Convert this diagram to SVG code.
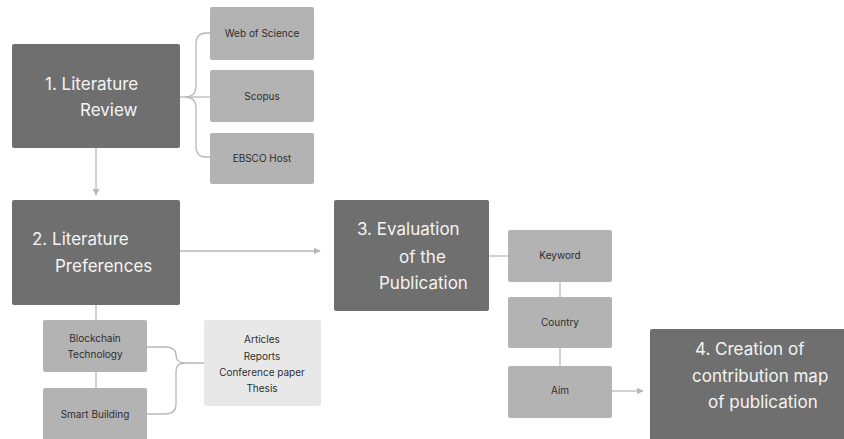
<svg xmlns="http://www.w3.org/2000/svg" width="844" height="439" viewBox="0 0 844 439">
<style>
.big{fill:#6f6f6f}
.small{fill:#b3b3b3}
.light{fill:#e8e8e8}
.bt{font-family:Inter,"Liberation Sans",sans-serif;font-size:17px;fill:#f4f4f4}
.st{font-family:Inter,"Liberation Sans",sans-serif;font-size:10px;fill:#2e2e2e;text-anchor:middle}
.ln{fill:none;stroke:#b9b9b9;stroke-width:1.3}
</style>
<defs>
<marker id="ah" viewBox="0 0 10 10" refX="9" refY="5" markerWidth="7" markerHeight="7" orient="auto" markerUnits="userSpaceOnUse">
<path d="M0,0 L10,5 L0,10 z" fill="#b9b9b9"/>
</marker>
</defs>
<rect width="844" height="439" fill="#ffffff"/>
<g id="connectors">
<path class="ln" d="M180,97 H210"/>
<path class="ln" d="M185,97 Q196,97 196,86 V44 Q196,33 206,33 H210"/>
<path class="ln" d="M185,97 Q196,97 196,108 V146 Q196,157 206,157 H210"/>
<path class="ln" d="M96,148 V195" marker-end="url(#ah)"/>
<path class="ln" d="M180,251 H320" marker-end="url(#ah)"/>
<path class="ln" d="M96,305 V320"/>
<path class="ln" d="M96,372 V388"/>
<path class="ln" d="M147,347 H165 Q176,347 176,355 Q176,363 185,363 H204"/>
<path class="ln" d="M147,414 H165 Q176,414 176,404 V371 Q176,363 185,363"/>
<path class="ln" d="M489,256 H508"/>
<path class="ln" d="M560,282 V297"/>
<path class="ln" d="M560,348 V366"/>
<path class="ln" d="M612,391 H643" marker-end="url(#ah)"/>
</g>
<g id="n1">
<rect class="big" x="12" y="44" width="168" height="104" rx="2"/>
<text class="bt" x="45" y="90">1. Literature</text>
<text class="bt" x="80" y="116">Review</text>
</g>
<g id="wos">
<rect class="small" x="210" y="7" width="104" height="53" rx="2"/>
<text class="st" x="262" y="37">Web of Science</text>
</g>
<g id="scopus">
<rect class="small" x="210" y="70" width="104" height="52" rx="2"/>
<text class="st" x="262" y="100">Scopus</text>
</g>
<g id="ebsco">
<rect class="small" x="210" y="133" width="104" height="51" rx="2"/>
<text class="st" x="262" y="162">EBSCO Host</text>
</g>
<g id="n2">
<rect class="big" x="12" y="200" width="168" height="105" rx="2"/>
<text class="bt" x="32" y="245">2. Literature</text>
<text class="bt" x="55" y="272">Preferences</text>
</g>
<g id="blockchain">
<rect class="small" x="43" y="320" width="104" height="52" rx="2"/>
<text class="st" x="95" y="342">Blockchain</text>
<text class="st" x="95" y="358">Technology</text>
</g>
<g id="smart">
<rect class="small" x="43" y="388" width="104" height="54" rx="2"/>
<text class="st" x="95" y="418">Smart Building</text>
</g>
<g id="types">
<rect class="light" x="204" y="320" width="117" height="86" rx="2"/>
<text class="st" x="262" y="343">Articles</text>
<text class="st" x="262" y="360">Reports</text>
<text class="st" x="262" y="376">Conference paper</text>
<text class="st" x="262" y="392">Thesis</text>
</g>
<g id="n3">
<rect class="big" x="334" y="200" width="155" height="111" rx="2"/>
<text class="bt" x="357" y="235">3. Evaluation</text>
<text class="bt" x="399" y="263">of the</text>
<text class="bt" x="379" y="289">Publication</text>
</g>
<g id="keyword">
<rect class="small" x="508" y="230" width="104" height="52" rx="2"/>
<text class="st" x="560" y="259">Keyword</text>
</g>
<g id="country">
<rect class="small" x="508" y="297" width="104" height="51" rx="2"/>
<text class="st" x="560" y="326">Country</text>
</g>
<g id="aim">
<rect class="small" x="508" y="366" width="104" height="52" rx="2"/>
<text class="st" x="560" y="394">Aim</text>
</g>
<g id="n4">
<rect class="big" x="650" y="329" width="196" height="114" rx="2"/>
<text class="bt" x="695" y="355">4. Creation of</text>
<text class="bt" x="692" y="382">contribution map</text>
<text class="bt" x="708" y="408">of publication</text>
</g>
</svg>
